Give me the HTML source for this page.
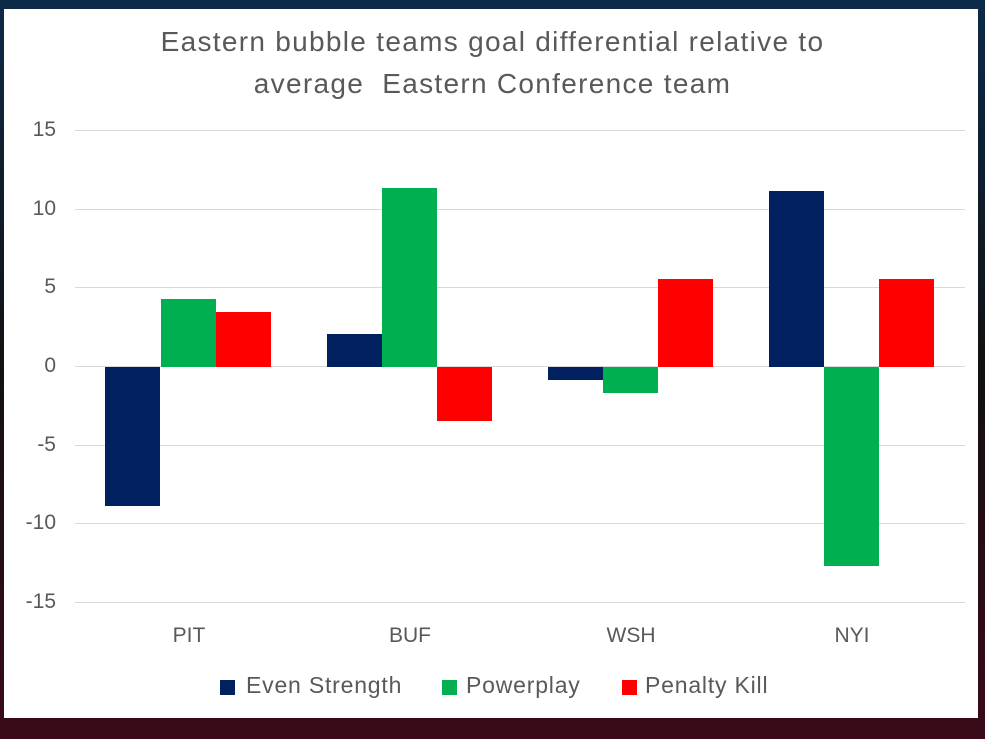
<!DOCTYPE html>
<html><head><style>
body{margin:0;width:985px;height:739px;overflow:hidden;background:linear-gradient(#0d2a48,#111 50%,#3a0a18);position:relative;font-family:"Liberation Sans",sans-serif}
#p{position:absolute;left:4px;top:9px;width:974px;height:709px;background:#fff}
.g{position:absolute;left:75px;width:890px;height:1px;background:#d9d9d9}
.y{position:absolute;left:0;width:56px;text-align:right;font-size:21px;color:#595959}
.b{position:absolute;width:55px}
.n{background:#002060}.gr{background:#00b050}.r{background:#ff0000}
.x{position:absolute;top:624px;width:100px;text-align:center;font-size:21px;color:#595959}
.t{position:absolute;left:0;width:985px;text-align:center;font-size:28px;letter-spacing:1.3px;color:#595959;line-height:42px}
.l{position:absolute;top:672px;font-size:23px;letter-spacing:0.8px;color:#595959;white-space:nowrap}
.sq{position:absolute;width:15px;height:15px}
</style></head><body>
<div id="p"></div>
<div class="t" style="top:21px">Eastern bubble teams goal differential relative to<br>average&nbsp; Eastern Conference team</div>
<div class="g" style="top:130px"></div><div class="g" style="top:209px"></div><div class="g" style="top:287px"></div><div class="g" style="top:366px"></div><div class="g" style="top:445px"></div><div class="g" style="top:523px"></div><div class="g" style="top:602px"></div>
<div class="y" style="top:118px">15</div><div class="y" style="top:197px">10</div><div class="y" style="top:275px">5</div><div class="y" style="top:354px">0</div><div class="y" style="top:433px">-5</div><div class="y" style="top:511px">-10</div><div class="y" style="top:590px">-15</div>
<div class="b n" style="left:105px;top:367px;height:139px"></div>
<div class="b gr" style="left:161px;top:299px;height:68px"></div>
<div class="b r" style="left:216px;top:312px;height:55px"></div>
<div class="b n" style="left:327px;top:334px;height:33px"></div>
<div class="b gr" style="left:382px;top:188px;height:179px"></div>
<div class="b r" style="left:437px;top:367px;height:54px"></div>
<div class="b n" style="left:548px;top:367px;height:13px"></div>
<div class="b gr" style="left:603px;top:367px;height:26px"></div>
<div class="b r" style="left:658px;top:279px;height:88px"></div>
<div class="b n" style="left:769px;top:191px;height:176px"></div>
<div class="b gr" style="left:824px;top:367px;height:199px"></div>
<div class="b r" style="left:879px;top:279px;height:88px"></div>
<div class="x" style="left:139px">PIT</div><div class="x" style="left:360px">BUF</div><div class="x" style="left:581px">WSH</div><div class="x" style="left:802px">NYI</div>
<div class="sq n" style="left:220px;top:680px"></div><div class="l" style="left:246px">Even Strength</div>
<div class="sq gr" style="left:442px;top:680px"></div><div class="l" style="left:466px">Powerplay</div>
<div class="sq r" style="left:622px;top:680px"></div><div class="l" style="left:645px">Penalty Kill</div>
</body></html>
